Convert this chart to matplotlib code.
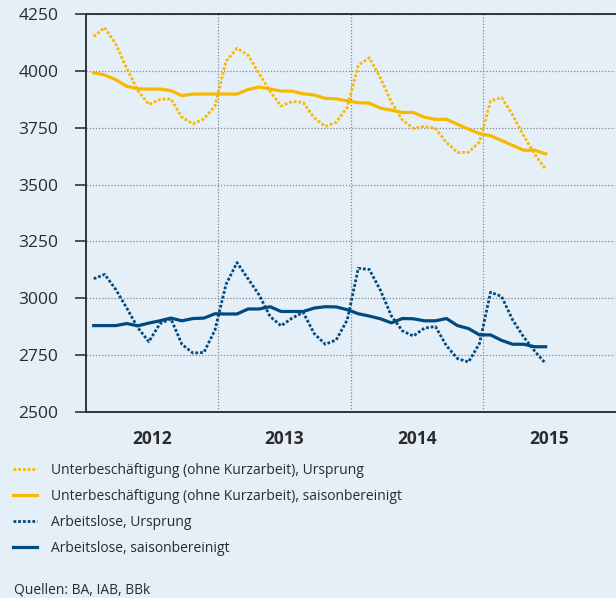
import matplotlib
matplotlib.use('Agg')
import matplotlib.pyplot as plt
import numpy as np

# monthly values, Jan 2012 .. Jun 2015 (thousands)
unter_ursprung = [4151, 4190, 4118, 4010, 3914, 3852, 3874, 3877, 3796, 3767, 3789, 3845,
                  4042, 4099, 4069, 3988, 3910, 3845, 3865, 3861, 3793, 3756, 3774, 3840,
                  4025, 4058, 3969, 3863, 3784, 3747, 3756, 3747, 3685, 3641, 3642, 3688,
                  3868, 3883, 3806, 3715, 3634, 3567]
unter_saison = [3992, 3982, 3961, 3932, 3921, 3920, 3920, 3913, 3891, 3898, 3898, 3898,
                3898, 3898, 3918, 3929, 3920, 3911, 3911, 3899, 3894, 3879, 3877, 3868,
                3860, 3858, 3836, 3827, 3817, 3817, 3796, 3787, 3787, 3765, 3744, 3724,
                3715, 3694, 3672, 3651, 3651, 3635]
alo_ursprung = [3086, 3105, 3039, 2957, 2871, 2809, 2888, 2910, 2798, 2759, 2762, 2861,
                3061, 3157, 3086, 3015, 2920, 2879, 2913, 2938, 2845, 2798, 2817, 2905,
                3132, 3127, 3036, 2923, 2857, 2834, 2869, 2876, 2791, 2735, 2720, 2802,
                3027, 3008, 2905, 2830, 2768, 2713]
alo_saison = [2880, 2880, 2880, 2889, 2879, 2891, 2901, 2913, 2901, 2911, 2913, 2932,
              2931, 2931, 2953, 2953, 2963, 2942, 2942, 2942, 2957, 2963, 2962, 2950,
              2932, 2922, 2910, 2892, 2911, 2910, 2901, 2901, 2911, 2880, 2867, 2839,
              2839, 2815, 2798, 2798, 2787, 2787]
years = ['2012', '2013', '2014', '2015']
labels = ['Unterbeschäftigung (ohne Kurzarbeit), Ursprung',
          'Unterbeschäftigung (ohne Kurzarbeit), saisonbereinigt',
          'Arbeitslose, Ursprung',
          'Arbeitslose, saisonbereinigt']
source = 'Quellen: BA, IAB, BBk'

bg = '#e5eff7'
yellow = '#f9b800'
blue = '#004a80'
txt = '#2b2b2b'

plt.rcParams['font.family'] = ['Open Sans', 'DejaVu Sans']

fig = plt.figure(figsize=(6.16, 5.98), dpi=100, facecolor=bg)
ax = fig.add_axes([0.1396, 0.311, 0.859, 0.6656])
ax.set_facecolor(bg)

x = np.arange(len(unter_saison)) + 0.7
dots = (0, (1, 0.7))
l1, = ax.plot(x, unter_ursprung, color=yellow, lw=2.0, linestyle=dots)
l2, = ax.plot(x, unter_saison, color=yellow, lw=2.3)
l3, = ax.plot(x, alo_ursprung, color=blue, lw=2.0, linestyle=dots)
l4, = ax.plot(x, alo_saison, color=blue, lw=2.3)

ax.set_xlim(0, 48)
ax.set_ylim(2500, 4250)
ax.set_yticks(np.arange(2500, 4251, 250))
ax.set_xticks([12, 24, 36])
ax.set_xticklabels([])
ax.set_xticks([6, 18, 30, 42], minor=True)
ax.set_xticklabels(years, minor=True, fontweight='bold', fontsize=12.5, color=txt)
ax.tick_params(axis='x', which='both', length=0, pad=13)
ax.tick_params(axis='y', length=8, width=1.2, color='#333333', pad=12,
               labelsize=12.5, labelcolor=txt)

ax.grid(True, which='major', color='#80878d', linestyle=(0, (1, 1.5)), lw=0.9)
ax.set_axisbelow(True)

for s in ['left', 'bottom', 'top']:
    ax.spines[s].set_color('#333333')
    ax.spines[s].set_linewidth(1.4)
ax.spines['right'].set_visible(False)

fig.legend([l1, l2, l3, l4], labels, loc='upper left', bbox_to_anchor=(0.012, 0.235),
           frameon=False, fontsize=10, labelcolor=txt, handlelength=1.75,
           handletextpad=1.0, labelspacing=0.8, borderaxespad=0)
fig.text(0.022, 0.007, source, fontsize=10, color=txt)

fig.savefig('out.png', dpi=100, facecolor=bg)
